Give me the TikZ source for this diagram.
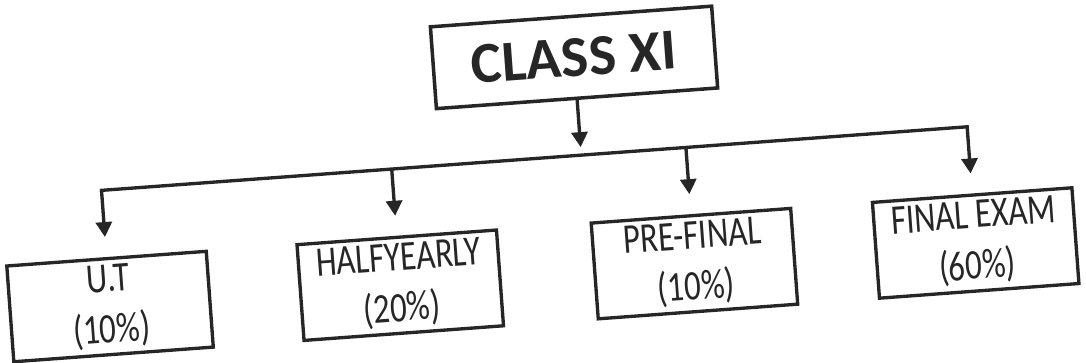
\documentclass[tikz,border=0pt]{standalone}
\usepackage{fontspec}
\setmainfont{Carlito}
\newfontfamily\narrowfont[FakeStretch=0.78]{Carlito}
\usetikzlibrary{arrows.meta}
\tikzstyle{title} = [rectangle, minimum width=5.64cm, minimum height=1.64cm, text centered, draw=black!85, line width=2pt, font=\fontsize{33}{36}\selectfont\bfseries, text=black!85]
\tikzstyle{part} = [rectangle, minimum width=4cm, minimum height=1.92cm, align=center, draw=black!85, line width=1.9pt, font=\narrowfont\fontsize{24}{29}\selectfont, text=black!85]
\tikzstyle{line} = [line width=1.9pt, draw=black!85, line cap=rect]
\tikzstyle{arrow} = [line width=1.9pt, draw=black!85, -{Triangle[length=0.3cm,width=0.32cm]}]

\begin{document}
\begin{tikzpicture}

\useasboundingbox (-10.86,-3.62) rectangle (10.86,3.62);

\begin{scope}[rotate=4.2, transform shape]

% Nodes
\node (class) [title] at (0.8,2.42) {CLASS XI};
\node (ut) [part] at (-8.82,-1.87) {U.T\\(10\%)};
\node (half) [part] at (-3.0,-1.87) {HALFYEARLY\\(20\%)};
\node (pre) [part] at (2.9,-1.87) {PRE-FINAL\\(10\%)};
\node (final) [part] at (8.54,-1.87) {FINAL EXAM\\(60\%)};

% Bus
\coordinate (bus) at (0.8,0.46);
\coordinate (dut) at (-8.82,0.46);
\coordinate (dhalf) at (-3.0,0.46);
\coordinate (dpre) at (2.9,0.46);
\coordinate (dfinal) at (8.54,0.46);

% Arrows
\draw [arrow, shorten >=0.16cm] (class.south) -- (bus);
\draw [line] (dut) -- (dfinal);
\draw [arrow, shorten >=0.4cm] (dut) -- (ut.north);
\draw [arrow, shorten >=0.4cm] (dhalf) -- (half.north);
\draw [arrow, shorten >=0.4cm] (dpre) -- (pre.north);
\draw [arrow, shorten >=0.4cm] (dfinal) -- (final.north);

\end{scope}

\end{tikzpicture}
\end{document}
